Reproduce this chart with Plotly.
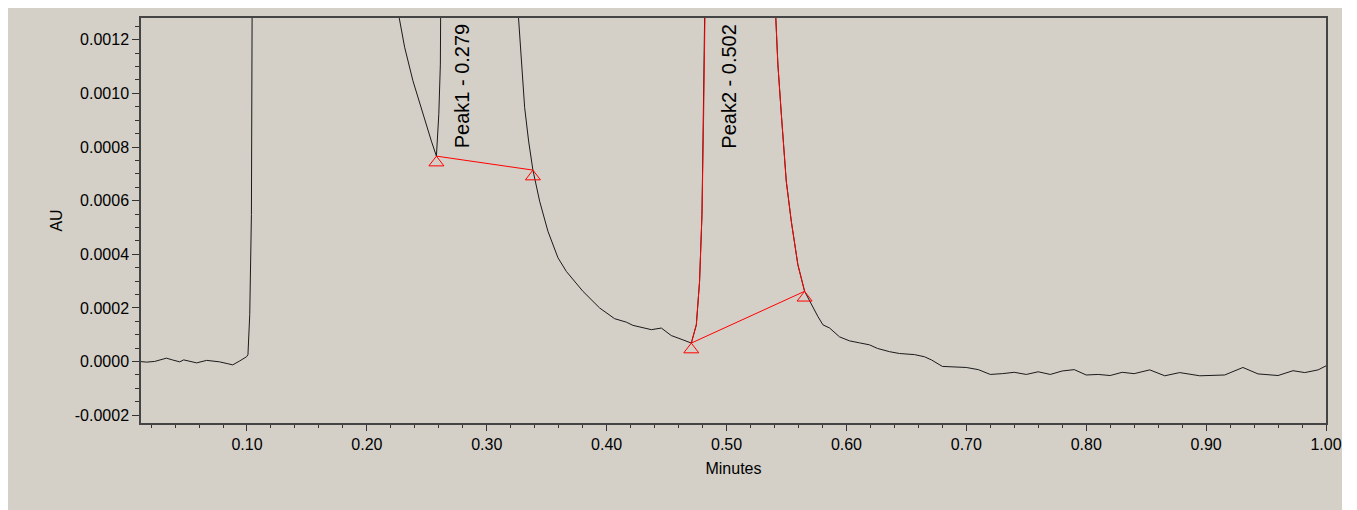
import plotly.graph_objects as go

# ---- data ----
time_min = [
    0.0113, 0.0163, 0.0230, 0.0328, 0.0380, 0.0439, 0.0472, 0.0520, 0.0580, 0.0664,
    0.0772, 0.0840, 0.0881, 0.0940, 0.0995, 0.1008, 0.1023, 0.1037, 0.1045, 0.1050,
    0.1058, 0.1100, 0.1500, 0.2000, 0.2200, 0.2262, 0.2315, 0.2384, 0.2468, 0.2538,
    0.2580, 0.2600, 0.2613, 0.2621, 0.2630, 0.2790, 0.3000, 0.3200, 0.3262, 0.3288,
    0.3316, 0.3349, 0.3385, 0.3441, 0.3510, 0.3594, 0.3664, 0.3802, 0.3941, 0.4066,
    0.4164, 0.4219, 0.4331, 0.4373, 0.4456, 0.4539, 0.4636, 0.4706, 0.4748, 0.4775,
    0.4795, 0.4809, 0.4823, 0.4830, 0.5020, 0.5300, 0.5400, 0.5409, 0.5428, 0.5457,
    0.5498, 0.5540, 0.5595, 0.5651, 0.5707, 0.5762, 0.5804, 0.5860, 0.5942, 0.6025,
    0.6108, 0.6192, 0.6259, 0.6359, 0.6443, 0.6568, 0.6651, 0.6710, 0.6800, 0.6900,
    0.7000, 0.7100, 0.7200, 0.7300, 0.7400, 0.7500, 0.7600, 0.7700, 0.7800, 0.7900,
    0.8000, 0.8100, 0.8200, 0.8300, 0.8400, 0.8530, 0.8655, 0.8780, 0.8947, 0.9155,
    0.9307, 0.9433, 0.9600, 0.9725, 0.9823, 0.9934, 1.0000,
]
absorbance_au = [
    0.0000000, -0.0000020, 0.0000005, 0.0000127, 0.0000060, -0.0000011, 0.0000063, 0.0000010, -0.0000049, 0.0000045,
    -0.0000011, -0.0000080, -0.0000123, 0.0000026, 0.0000176, 0.0000250, 0.000175, 0.000548, 0.000922, 0.001281,
    0.0020, 0.0150, 0.0600, 0.0120, 0.0022, 0.00130, 0.001172, 0.001047, 0.000922, 0.000822,
    0.000766, 0.000922, 0.001109, 0.001281, 0.0018, 0.0150, 0.0040, 0.0018, 0.00130, 0.001109,
    0.000947, 0.000822, 0.000714, 0.000598, 0.000486, 0.000387, 0.000336, 0.000262, 0.000200, 0.000160,
    0.000147, 0.000135, 0.000122, 0.000119, 0.000125, 0.000097, 0.000081, 0.000069, 0.000137, 0.000299,
    0.000548, 0.000922, 0.001281, 0.0016, 0.0080, 0.0020, 0.0014, 0.00130, 0.001109, 0.000922,
    0.000673, 0.000523, 0.000361, 0.000262, 0.000212, 0.000168, 0.000137, 0.000125, 0.0000923, 0.0000773,
    0.0000699, 0.0000624, 0.0000490, 0.0000370, 0.0000300, 0.0000260, 0.0000180, 0.0000060, -0.0000180, -0.0000200,
    -0.0000220, -0.0000300, -0.0000480, -0.0000450, -0.0000400, -0.0000480, -0.0000380, -0.0000480, -0.0000350, -0.0000300,
    -0.0000500, -0.0000480, -0.0000520, -0.0000400, -0.0000450, -0.0000310, -0.0000530, -0.0000410, -0.0000530, -0.0000500,
    -0.0000220, -0.0000460, -0.0000520, -0.0000340, -0.0000410, -0.0000310, -0.0000160,
]

peak_names = ["Peak1", "Peak2"]
peak_times = [0.279, 0.502]
peak1_base_x = [0.2580, 0.3385]
peak1_base_y = [0.000766, 0.000714]
peak2_base_x = [0.4706, 0.5651]
peak2_base_y = [0.000069, 0.000262]

x_ticks = [0.10, 0.20, 0.30, 0.40, 0.50, 0.60, 0.70, 0.80, 0.90, 1.00]
y_ticks = [-0.0002, 0.0000, 0.0002, 0.0004, 0.0006, 0.0008, 0.0010, 0.0012]

# ---- layout constants ----
W, H = 1334, 502
ML, MR, MT, MB = 133, 16, 10, 87
PW, PH = W - ML - MR, H - MT - MB
XR = [0.0116, 1.0]
YR = [-0.000229, 0.001281]
BG = "#d4d0c8"
FONT = "Liberation Sans, Arial, Helvetica, sans-serif"

fig = go.Figure()

# main signal
fig.add_trace(go.Scatter(x=time_min, y=absorbance_au, mode="lines",
                         line=dict(color="#1a1a1a", width=1), hoverinfo="skip",
                         showlegend=False))

# integrated Peak2 region drawn in red
p2x = [t for t in time_min if peak2_base_x[0] <= t <= peak2_base_x[1]]
p2y = [a for t, a in zip(time_min, absorbance_au) if peak2_base_x[0] <= t <= peak2_base_x[1]]
fig.add_trace(go.Scatter(x=p2x, y=p2y, mode="lines",
                         line=dict(color="#ff0000", width=1), showlegend=False))

# baselines and start/end markers (triangle apex on the point)
px_per_unit = PH / (YR[1] - YR[0])
msize = 13
off = (msize / 2) / px_per_unit
for bx, by in [(peak1_base_x, peak1_base_y), (peak2_base_x, peak2_base_y)]:
    fig.add_trace(go.Scatter(x=bx, y=by, mode="lines",
                             line=dict(color="#ff0000", width=1), showlegend=False))
    fig.add_trace(go.Scatter(x=bx, y=[v - off for v in by], mode="markers",
                             marker=dict(symbol="triangle-up-open", size=msize,
                                         color="#ff0000", line=dict(width=1, color="#ff0000")),
                             showlegend=False))

# peak labels
for name, t in zip(peak_names, peak_times):
    fig.add_annotation(x=t, y=0.000788, xref="x", yref="y",
                       text=f"{name} - {t:.3f}", textangle=-90, showarrow=False,
                       xanchor="center", yanchor="bottom",
                       font=dict(family=FONT, size=20, color="black"))

fig.update_layout(
    width=W, height=H,
    margin=dict(l=ML, r=MR, t=MT, b=MB, pad=0, autoexpand=False),
    paper_bgcolor=BG, plot_bgcolor=BG,
    font=dict(family=FONT, size=16, color="black"),
    showlegend=False,
)
fig.update_xaxes(range=XR, tickvals=x_ticks, ticktext=[f"{v:.2f}" for v in x_ticks],
                 automargin=False,
                 ticks="outside", ticklen=6, tickcolor="#333", tickwidth=1,
                 minor=dict(dtick=0.02, tick0=0, ticks="outside", ticklen=3, tickcolor="#333"),
                 showgrid=False, zeroline=False,
                 showline=True, linecolor="#444", linewidth=1.5, mirror=True,
                 title=dict(text="Minutes", font=dict(size=16), standoff=11),
                 tickfont=dict(size=16))
fig.update_yaxes(range=YR, tickvals=y_ticks, ticktext=[f"{v:.4f}" for v in y_ticks],
                 automargin=False,
                 ticks="outside", ticklen=7, tickcolor="#333", tickwidth=1,
                 minor=dict(dtick=0.00005, tick0=0, ticks="outside", ticklen=4, tickcolor="#333"),
                 showgrid=False, zeroline=False,
                 showline=True, linecolor="#444", linewidth=1.5, mirror=True,
                 title=dict(text="AU", font=dict(size=16), standoff=8),
                 tickfont=dict(size=16))

fig.write_html("out.html")
